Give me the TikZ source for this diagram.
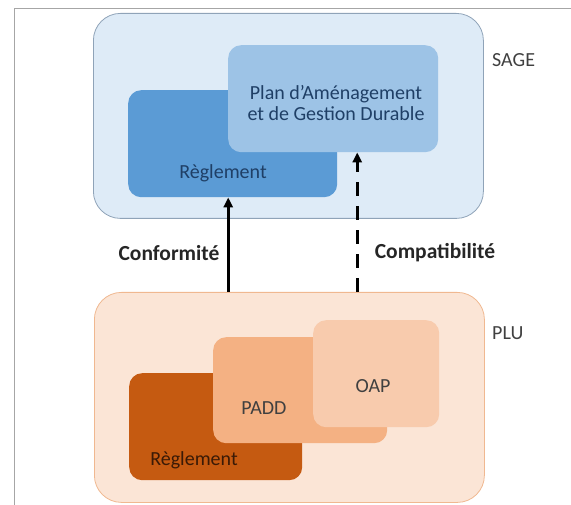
\documentclass[tikz,border=0pt]{standalone}
\usepackage{fontspec}
\setmainfont{Carlito}
\usetikzlibrary{arrows.meta}

\definecolor{sagefill}{HTML}{DEEBF7}
\definecolor{sagedraw}{HTML}{8FA3B8}
\definecolor{pagdfill}{HTML}{9DC3E6}
\definecolor{reglbfill}{HTML}{5B9BD5}
\definecolor{reglbtext}{HTML}{1F3F66}
\definecolor{plufill}{HTML}{FBE5D6}
\definecolor{pludraw}{HTML}{F0B890}
\definecolor{regltfill}{HTML}{C55A11}
\definecolor{reglttext}{HTML}{3A1A06}
\definecolor{paddfill}{HTML}{F4B183}
\definecolor{oapfill}{HTML}{F8CBAD}
\definecolor{txtgray}{HTML}{404040}

\newcommand*\boxtext{\fontsize{20}{21}\selectfont}
\tikzset{block/.style 2 args={
    rectangle,
    rounded corners=13pt,
    anchor=north west,
    inner sep=0pt,
    minimum width=#1,
    minimum height=#2
}}
\tikzset{group/.style={
    rounded corners=27pt,
    line width=0.8pt
}}
\tikzset{txt/.style={
    font=\boxtext,
    inner sep=0pt,
    align=center
}}
\tikzset{link/.style={
    line width=2.6pt,
    -{Triangle[width=9pt,length=10pt]}
}}

\begin{document}
\begin{tikzpicture}[x=1pt,y=-1pt]
    \useasboundingbox (0,0) rectangle (571,505);

    % Frame of the figure.
    \draw[gray!70,line width=0.8pt] (14,505) |- (571,8);

    % SAGE group.
    \node[block={390}{205},group,fill=sagefill,draw=sagedraw] (sage) at (93,13) {};
    \node[txt,font=\fontsize{20}{21}\selectfont,text=txtgray,anchor=west] (sagelab) at (492,60) {SAGE};
    \node[block={209}{107},fill=reglbfill] (reglS) at (128,90) {};
    \node[txt,text=reglbtext] (reglStxt) at (223,173) {Règlement};
    \node[block={210}{107},fill=pagdfill] (pagd) at (228,45) {};
    \node[txt,text=reglbtext] (pagdtxt) at (336,103) {Plan d’Aménagement\\et de Gestion Durable};

    % PLU group.
    \node[block={390}{210},group,fill=plufill,draw=pludraw] (plu) at (94,292) {};
    \node[txt,font=\fontsize{20}{21}\selectfont,text=txtgray,anchor=west] (plulab) at (492,333) {PLU};
    \node[block={173}{107},fill=regltfill] (reglP) at (129,373) {};
    \node[txt,text=reglttext] (reglPtxt) at (194,460) {Règlement};
    \node[block={174}{106},fill=paddfill] (padd) at (213,337) {};
    \node[txt,text=txtgray] (paddtxt) at (264,408) {PADD};
    \node[block={126}{107},fill=oapfill] (oap) at (313,320) {};
    \node[txt,text=txtgray] (oaptxt) at (373,386) {OAP};

    % Links between the two groups.
    \draw[link] ([xshift=-4.5]reglS.south |- plu.north) -- ([xshift=-4.5]reglS.south);
    \draw[link,dash pattern=on 14pt off 10pt] ([xshift=24]pagd.south |- plu.north) -- ([xshift=24]pagd.south);
    \node[txt,font=\bfseries\fontsize{21.5}{23}\selectfont,text=black!85] (conf) at (169,253) {Conformité};
    \node[txt,font=\bfseries\fontsize{21.5}{23}\selectfont,text=black!85] (compat) at (435,253) {Compatibilité};
\end{tikzpicture}
\end{document}
